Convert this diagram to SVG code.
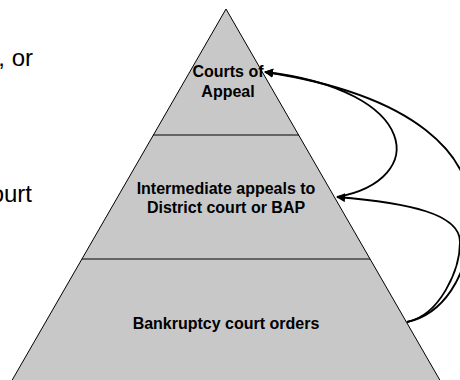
<svg xmlns="http://www.w3.org/2000/svg" width="460" height="380" viewBox="0 0 460 380">
<defs>
<style>
.lbl{font-family:"Liberation Sans",Arial,sans-serif;font-weight:bold;font-size:16px;fill:#000;text-anchor:middle}
.side{font-family:"Liberation Sans",Arial,sans-serif;font-size:24px;fill:#000;text-anchor:end}
.tier{fill:#c8c8c8;stroke:#000;stroke-width:1}
.conn{fill:none;stroke:#000;stroke-width:1.8;marker-end:url(#ah)}
</style>
<marker id="ah" viewBox="0 0 10 10" refX="9" refY="5" markerWidth="5" markerHeight="5" orient="auto" markerUnits="strokeWidth">
<path d="M0,0 L10,5 L0,10 z" fill="#000"/>
</marker>
</defs>
<rect width="460" height="380" fill="#fff"/>
<text class="side" x="33" y="66">, or</text>
<text class="side" x="32" y="202">ourt</text>
<g id="pyramid">
<polygon class="tier" points="226,9 445,389 7,389"/>
<line x1="153" y1="135" x2="299" y2="135" stroke="#000" stroke-width="1.2"/>
<line x1="82" y1="259" x2="370" y2="259" stroke="#000" stroke-width="1.2"/>
</g>
<g id="courts-of-appeal">
<text class="lbl" x="228" y="77">Courts of</text>
<text class="lbl" x="228" y="97">Appeal</text>
</g>
<g id="intermediate">
<text class="lbl" x="226" y="194">Intermediate appeals to</text>
<text class="lbl" x="226" y="213">District court or BAP</text>
</g>
<g id="bankruptcy">
<text class="lbl" x="226" y="329">Bankruptcy court orders</text>
</g>
<g id="connectors">
<path class="conn" d="M337,197 C430,180 420,90 265,72"/>
<path class="conn" d="M407,322 C440,315 470,280 470,220 C476,155 415,95 265,72"/>
<path class="conn" d="M407,322 C440,315 460,270 460,242 C460,214 410,203 337,197"/>
</g>
</svg>
